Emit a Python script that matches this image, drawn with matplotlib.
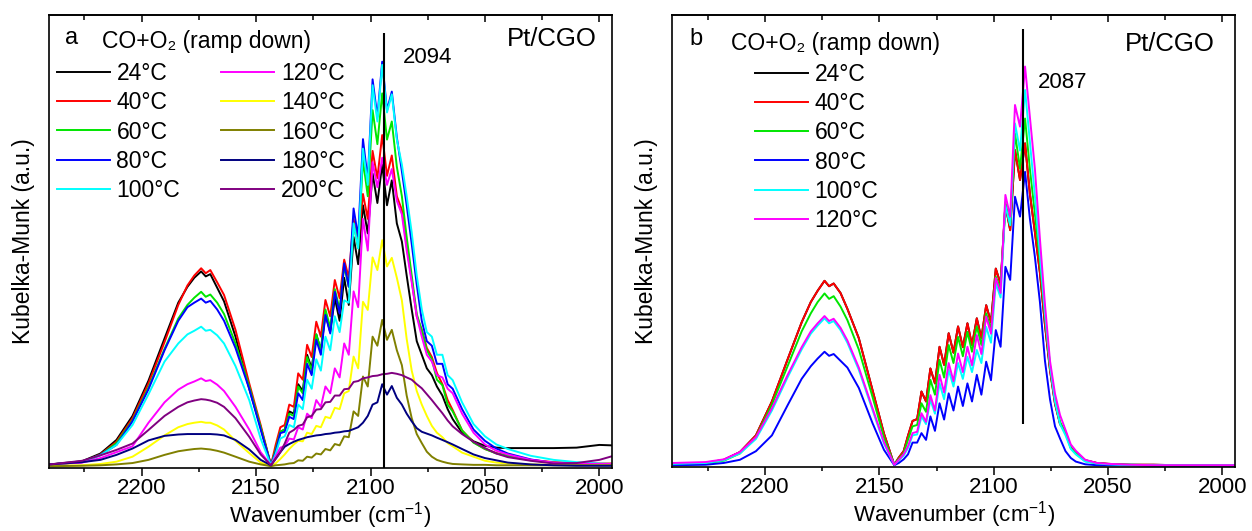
import matplotlib
matplotlib.use("Agg")
import matplotlib.pyplot as plt
from matplotlib.ticker import MultipleLocator, NullFormatter, NullLocator

plt.rcParams['font.family'] = ['Liberation Sans', 'DejaVu Sans']
plt.rcParams['mathtext.fontset'] = 'custom'
plt.rcParams['mathtext.rm'] = 'Liberation Sans'
plt.rcParams['mathtext.it'] = 'Liberation Sans'

# wavenumber grid (cm-1): R-branch band, then P-branch lines + adsorbed CO band, then tail
wavenumber = [2240, 2226, 2218, 2211, 2204, 2197, 2190, 2184, 2180, 2177, 2174, 2172, 2170,
              2167, 2164, 2159, 2153, 2148, 2143.5,
              2141.5, 2139.4, 2137.5, 2135.5, 2133.5, 2131.6, 2129.6, 2127.7, 2125.7, 2123.7,
              2121.7, 2119.7, 2117.6, 2115.6, 2113.5, 2111.5, 2109.5, 2107.4, 2105.4, 2103.3,
              2101.2, 2099.1, 2097.0, 2094.9, 2092.8, 2090.7, 2088.5, 2086.3, 2084.2, 2082.0,
              2079.8, 2077.6, 2075.4, 2073.2, 2071.0, 2068.6, 2066.3, 2064.1, 2060, 2055,
              2050, 2045, 2040, 2030, 2020, 2010, 2000, 1994.5]

# panel a: Kubelka-Munk (a.u.)
a_24 = [0.8, 1.5, 3.2, 6.2, 11.5, 19.3, 28.6, 36.5, 40.0, 42.0, 43.4, 42.3, 42.8, 39.8, 36.8, 29.0, 17.5, 9.0, 0.6,
        4.0, 8.0, 8.5, 12.5, 12.0, 18.5, 17.0, 25.0, 22.0, 29.5, 26.0, 34.0, 30.0, 37.5, 32.5, 42.0, 36.0,
        51.0, 45.0, 58.0, 51.8, 65.0, 58.5, 67.0, 58.0, 63.5, 54.0, 50.0, 42.5, 35.0, 28.0, 25.0, 22.0,
        20.5, 18.0, 16.0, 13.0, 10.8, 7.8, 5.9, 4.9, 4.5, 4.4, 4.4, 4.4, 4.5, 5.1, 5.0]
a_40 = [0.8, 1.3, 3.0, 5.8, 11.0, 18.7, 27.8, 36.0, 40.3, 42.5, 44.1, 43.0, 43.7, 41.0, 38.2, 30.5, 18.7, 9.5, 0.6,
        5.0, 9.0, 9.5, 14.0, 13.5, 20.9, 19.5, 27.2, 24.5, 32.3, 29.0, 37.1, 33.5, 41.5, 37.5, 46.0, 42.0,
        55.0, 49.0, 60.5, 55.0, 70.0, 64.0, 73.5, 64.5, 69.0, 60.0, 57.0, 49.0, 41.5, 33.5, 30.5, 26.5,
        24.5, 21.0, 18.5, 15.0, 12.8, 8.3, 5.7, 4.2, 3.3, 2.7, 1.8, 1.3, 1.1, 1.0, 1.0]
a_60 = [0.8, 1.3, 2.9, 5.5, 10.5, 17.8, 26.3, 33.0, 36.0, 37.6, 38.9, 37.8, 38.3, 36.5, 34.0, 27.5, 18.0, 9.0, 0.6,
        4.0, 8.0, 8.5, 12.0, 11.5, 18.0, 16.5, 24.5, 21.5, 29.5, 26.0, 35.0, 31.0, 39.5, 35.0, 44.5, 40.0,
        54.0, 48.5, 68.0, 60.0, 79.0, 71.5, 82.7, 72.5, 76.5, 66.5, 60.0, 51.0, 42.5, 34.0, 30.3, 26.0,
        24.0, 19.5, 18.3, 14.0, 12.5, 8.3, 5.6, 4.2, 3.2, 2.7, 1.7, 1.2, 1.0, 0.9, 0.9]
a_80 = [0.8, 1.3, 2.9, 5.1, 10.3, 17.4, 26.0, 32.5, 35.5, 36.5, 37.4, 36.5, 36.9, 35.0, 32.5, 26.5, 17.5, 8.5, 0.6,
        3.5, 7.7, 8.0, 11.3, 10.8, 16.5, 15.0, 23.0, 20.5, 28.3, 25.0, 33.8, 29.7, 38.9, 34.1, 45.2, 40.0,
        57.3, 51.1, 72.6, 63.6, 85.8, 77.5, 89.7, 79.0, 83.1, 73.0, 65.5, 58.0, 49.5, 40.5, 32.5, 28.0,
        27.0, 23.0, 23.0, 18.5, 17.5, 13.0, 8.5, 6.0, 4.3, 3.2, 1.9, 1.1, 0.8, 0.6, 0.6]
a_100 = [0.8, 1.3, 2.8, 5.1, 9.5, 16.3, 23.5, 27.5, 29.5, 30.3, 31.2, 30.3, 30.5, 29.3, 27.5, 22.5, 15.0, 6.5, 0.6,
         3.0, 6.5, 7.0, 9.5, 9.0, 14.0, 13.0, 19.5, 17.5, 24.0, 21.5, 29.0, 26.0, 33.5, 30.0, 37.0, 36.5,
         54.0, 48.5, 70.5, 62.5, 84.5, 76.5, 89.0, 78.5, 82.5, 72.5, 67.0, 60.0, 52.0, 42.5, 35.0, 30.0,
         29.0, 25.0, 25.0, 20.5, 19.4, 14.5, 9.7, 7.0, 5.2, 4.2, 2.7, 1.8, 1.3, 1.0, 0.9]
a_120 = [0.8, 1.2, 2.2, 3.5, 4.8, 10.0, 14.5, 17.3, 18.5, 19.1, 19.8, 19.2, 19.4, 18.4, 17.0, 13.5, 8.5, 3.5, 0.6,
         2.5, 4.5, 4.8, 6.5, 6.3, 9.0, 8.5, 12.0, 11.0, 15.0, 13.5, 18.0, 16.5, 22.0, 20.0, 27.5, 25.0,
         39.0, 35.5, 55.0, 48.0, 67.5, 62.0, 68.5, 62.5, 66.0, 59.0, 56.0, 48.0, 41.0, 33.5, 29.0, 25.0,
         23.5, 20.5, 20.0, 17.5, 16.5, 12.0, 7.8, 5.2, 3.8, 3.0, 1.8, 1.2, 1.0, 0.9, 0.9]
a_140 = [0.5, 0.6, 0.9, 1.4, 2.5, 4.7, 7.2, 9.0, 9.7, 10.0, 10.2, 10.0, 10.0, 9.4, 8.5, 6.0, 3.3, 1.2, 0.5,
         1.0, 2.0, 3.0, 4.2, 5.2, 6.0, 5.9, 7.8, 7.5, 9.3, 9.0, 11.3, 11.0, 13.3, 13.0, 16.5, 17.0,
         24.6, 22.0, 36.7, 34.9, 46.5, 43.7, 50.3, 44.5, 46.4, 42.0, 37.0, 28.5, 21.5, 17.0, 14.0, 11.5,
         9.3, 7.8, 6.8, 5.5, 4.8, 3.4, 2.5, 1.6, 1.2, 1.0, 0.8, 0.7, 0.6, 0.6, 0.6]
a_160 = [0.4, 0.5, 0.6, 0.8, 1.1, 1.8, 2.9, 3.7, 4.0, 4.2, 4.3, 4.2, 4.1, 3.8, 3.4, 2.5, 1.4, 0.8, 0.4,
         0.6, 0.7, 0.8, 1.0, 1.1, 1.7, 1.6, 2.5, 2.3, 3.2, 3.0, 4.2, 3.9, 5.3, 5.0, 7.0, 6.8,
         12.5, 11.5, 20.2, 18.0, 29.0, 27.0, 32.7, 28.3, 30.5, 26.0, 22.7, 16.0, 11.0, 7.5, 5.5, 3.6,
         2.5, 1.8, 1.4, 1.1, 0.9, 0.8, 0.7, 0.7, 0.6, 0.6, 0.6, 0.6, 0.6, 0.6, 0.6]
a_180 = [0.8, 1.3, 1.8, 2.9, 4.3, 6.1, 7.1, 7.4, 7.5, 7.5, 7.5, 7.5, 7.5, 7.4, 7.2, 6.2, 4.1, 1.8, 0.6,
         2.0, 3.5, 4.7, 5.3, 5.8, 6.2, 6.5, 6.8, 7.0, 7.2, 7.3, 7.5, 7.6, 7.8, 7.9, 8.1, 8.2,
         8.6, 9.0, 10.0, 11.5, 14.0, 14.5, 18.5, 16.2, 18.1, 15.5, 14.0, 12.0, 10.3, 8.8, 8.0, 7.6,
         7.2, 6.7, 6.2, 5.7, 5.2, 4.2, 3.0, 2.2, 1.7, 1.2, 0.8, 0.6, 0.5, 0.5, 0.5]
a_200 = [0.8, 1.6, 2.8, 4.0, 5.4, 8.4, 11.5, 13.5, 14.5, 14.9, 15.2, 15.1, 14.9, 14.4, 13.5, 11.0, 6.9, 3.0, 0.6,
         2.0, 3.5, 5.4, 7.8, 8.4, 9.3, 9.6, 11.2, 11.5, 12.9, 13.0, 14.5, 14.6, 16.0, 16.0, 17.4, 17.5,
         19.0, 19.2, 19.8, 20.0, 20.3, 20.4, 20.7, 20.8, 21.0, 20.8, 20.5, 20.0, 19.5, 18.5, 17.6, 16.3,
         15.0, 13.6, 12.1, 10.5, 9.2, 7.5, 5.8, 4.4, 3.2, 2.4, 1.6, 1.0, 1.1, 1.8, 2.6]

# panel b
b_40 = [0.7, 0.9, 1.6, 3.3, 7.0, 14.5, 24.0, 32.0, 36.5, 39.0, 41.2, 40.0, 40.6, 38.5, 35.0, 28.5, 17.0, 7.4, 0.5,
        2.1, 3.5, 6.9, 10.2, 10.6, 16.7, 14.5, 21.8, 18.5, 26.6, 22.6, 29.6, 25.3, 31.1, 26.5, 31.8, 27.0,
        32.9, 28.5, 35.8, 32.0, 43.9, 40.5, 58.0, 52.4, 70.1, 63.5, 71.6, 60.5, 52.0, 43.0, 31.5, 21.5,
        14.0, 9.5, 7.8, 4.3, 3.2, 1.5, 0.9, 0.7, 0.6, 0.5, 0.5, 0.4, 0.4, 0.4, 0.4]
b_24 = list(b_40)  # the 24 C trace lies under the 40 C one
b_60 = [0.6, 0.8, 1.4, 3.0, 6.6, 13.8, 22.5, 30.0, 34.0, 36.5, 38.4, 37.2, 37.8, 35.5, 32.5, 26.0, 15.5, 6.5, 0.5,
        1.8, 3.0, 6.0, 9.0, 9.3, 14.1, 12.2, 19.3, 16.0, 23.7, 19.8, 27.0, 23.0, 28.8, 24.5, 29.9, 25.5,
        31.1, 27.0, 34.0, 30.5, 42.1, 39.5, 58.5, 53.5, 73.8, 66.0, 77.1, 66.0, 56.0, 45.5, 33.5, 22.5,
        15.0, 10.0, 7.5, 4.2, 3.0, 1.3, 0.8, 0.6, 0.5, 0.5, 0.4, 0.4, 0.4, 0.4, 0.4]
b_80 = [0.4, 0.5, 0.9, 1.6, 3.5, 7.0, 13.8, 19.5, 22.3, 24.0, 25.5, 24.6, 25.0, 23.5, 22.0, 17.5, 9.7, 3.8, 0.4,
        0.9, 1.7, 2.8, 5.4, 5.4, 7.5, 6.0, 11.2, 8.0, 14.1, 10.5, 16.3, 12.5, 17.8, 13.5, 18.5, 14.5,
        20.4, 16.0, 23.3, 19.2, 30.3, 26.6, 44.3, 41.4, 59.8, 55.4, 65.3, 55.0, 46.5, 36.5, 23.5, 15.0,
        9.0, 6.3, 3.5, 2.0, 1.2, 0.6, 0.4, 0.4, 0.4, 0.4, 0.3, 0.3, 0.3, 0.3, 0.3]
b_100 = [0.7, 0.9, 1.5, 3.0, 6.2, 12.5, 20.0, 26.0, 29.5, 31.3, 32.9, 31.8, 32.3, 30.3, 27.5, 21.5, 12.6, 5.2, 0.5,
         1.5, 2.5, 4.2, 7.0, 7.2, 11.2, 9.5, 14.9, 11.8, 18.5, 15.0, 21.5, 17.8, 23.0, 19.5, 24.4, 21.0,
         25.9, 23.0, 31.0, 27.5, 40.6, 37.5, 57.8, 53.5, 76.0, 70.0, 83.4, 72.0, 60.0, 47.0, 34.0, 22.5,
         14.5, 9.5, 7.0, 4.0, 2.8, 1.2, 0.8, 0.6, 0.5, 0.5, 0.4, 0.4, 0.4, 0.4, 0.4]
b_120 = [0.9, 1.1, 1.7, 3.3, 6.6, 13.0, 20.5, 26.5, 30.0, 31.8, 33.4, 32.3, 32.8, 30.8, 28.0, 22.0, 13.0, 5.5, 0.5,
         1.6, 2.8, 4.6, 7.5, 7.8, 11.9, 10.0, 15.9, 12.5, 20.4, 16.5, 23.0, 19.0, 25.1, 21.0, 26.6, 22.5,
         29.2, 25.0, 33.3, 29.5, 41.8, 38.5, 60.2, 55.4, 80.1, 75.3, 88.6, 77.5, 66.0, 50.5, 36.0, 23.5,
         16.2, 11.5, 8.2, 5.0, 3.6, 1.6, 0.9, 0.7, 0.6, 0.5, 0.4, 0.4, 0.4, 0.4, 0.4]

temps_a = ['24°C', '40°C', '60°C', '80°C', '100°C', '120°C', '140°C', '160°C', '180°C', '200°C']
temps_b = temps_a[:6]
colors = ['#000000', '#ff0000', '#00e600', '#0000ff', '#00ffff', '#ff00ff',
          '#ffff00', '#808000', '#000080', '#800080']

series_a = [a_24, a_40, a_60, a_80, a_100, a_120, a_140, a_160, a_180, a_200]
series_b = [b_24, b_40, b_60, b_80, b_100, b_120]

# marker line: band position and its vertical extent
mark_a, mark_a_span = 2094, (0, 96)
mark_b, mark_b_span = 2087, (9.5, 97)

FS = 16.5

fig = plt.figure(figsize=(12.52, 5.31), dpi=100)
ax_a = fig.add_axes([0.0391, 0.1186, 0.4497, 0.8531])
ax_b = fig.add_axes([0.5371, 0.1205, 0.4493, 0.8512])


def style_axes(ax, label_y):
    ax.set_xlim(2240.5, 1994.5)
    ax.set_ylim(0, 100)
    ax.xaxis.set_major_locator(MultipleLocator(50))
    ax.xaxis.set_minor_locator(MultipleLocator(25))
    ax.yaxis.set_major_locator(NullLocator())
    ax.tick_params(axis='x', which='major', direction='out', length=5.5, width=1.1,
                   labelsize=16, pad=1.5)
    ax.tick_params(axis='x', which='minor', direction='out', length=3, width=1.1)
    for sp in ax.spines.values():
        sp.set_linewidth(1.2)
    top = ax.secondary_xaxis('top')
    top.xaxis.set_major_locator(MultipleLocator(50))
    top.xaxis.set_minor_locator(MultipleLocator(25))
    top.xaxis.set_major_formatter(NullFormatter())
    top.tick_params(axis='x', which='major', direction='in', length=5, width=1.1)
    top.tick_params(axis='x', which='minor', direction='in', length=3.5, width=1.1)
    top.spines['top'].set_linewidth(1.2)
    ax.set_xlabel('Wavenumber (cm$^{-1}$)', fontsize=16, va='center')
    ax.xaxis.set_label_coords(0.5, label_y)
    ax.set_ylabel('Kubelka-Munk (a.u.)', fontsize=FS)
    ax.yaxis.set_label_coords(-0.025, 0.5)


for ax, series, labels in [(ax_a, series_a, temps_a), (ax_b, series_b, temps_b)]:
    for vals, lab, col in zip(series, labels, colors):
        ax.plot(wavenumber, vals, color=col, lw=1.4, label=lab,
                solid_joinstyle='round')

style_axes(ax_a, -0.104)
style_axes(ax_b, -0.106)

ax_a.vlines(mark_a, *mark_a_span, color='black', lw=1.5)
ax_b.vlines(mark_b, *mark_b_span, color='black', lw=1.5)

ax_a.legend(loc='upper left', bbox_to_anchor=(0.014, 0.896), ncol=2, frameon=False,
            fontsize=FS, handlelength=2.3, handletextpad=0.3, labelspacing=0.27,
            columnspacing=1.8, borderpad=0, borderaxespad=0)
ax_b.legend(loc='upper left', bbox_to_anchor=(0.147, 0.894), ncol=1, frameon=False,
            fontsize=FS, handlelength=2.3, handletextpad=0.3, labelspacing=0.27,
            borderpad=0, borderaxespad=0)

ax_a.text(0.040, 0.949, 'a', transform=ax_a.transAxes, fontsize=17, ha='center', va='center')
ax_a.text(0.0935, 0.941, 'CO+O₂ (ramp down)', transform=ax_a.transAxes, fontsize=FS,
          ha='left', va='center')
ax_a.text(0.973, 0.948, 'Pt/CGO', transform=ax_a.transAxes, fontsize=18.5, ha='right', va='center')
ax_a.text(0.673, 0.907, '2094', transform=ax_a.transAxes, fontsize=16, ha='center', va='center')

ax_b.text(0.041, 0.948, 'b', transform=ax_b.transAxes, fontsize=17, ha='center', va='center')
ax_b.text(0.104, 0.936, 'CO+O₂ (ramp down)', transform=ax_b.transAxes, fontsize=FS,
          ha='left', va='center')
ax_b.text(0.964, 0.936, 'Pt/CGO', transform=ax_b.transAxes, fontsize=18.5, ha='right', va='center')
ax_b.text(0.693, 0.851, '2087', transform=ax_b.transAxes, fontsize=16, ha='center', va='center')

fig.savefig('out.png', dpi=100)
